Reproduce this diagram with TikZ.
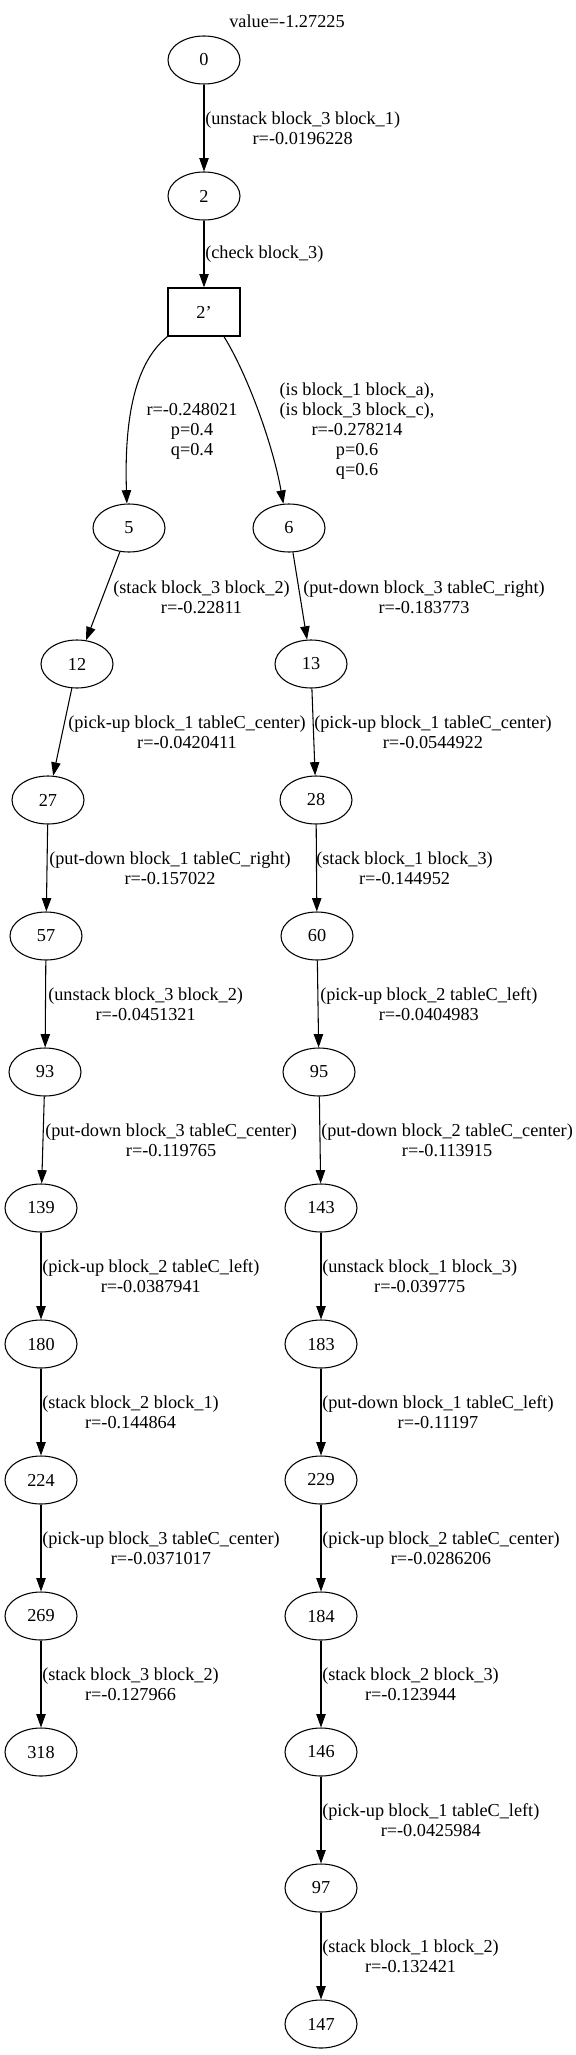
\documentclass[tikz,border=0pt]{standalone}
\usepackage{fontspec}
\setmainfont{Liberation Serif}
\usetikzlibrary{shapes.geometric,arrows.meta,calc}
\begin{document}
\begin{tikzpicture}[x=0.75pt,y=-0.75pt,
  every node/.style={font=\fontsize{13.7pt}{15pt}\selectfont},
  st/.style={ellipse,draw,line width=0.8pt,minimum width=54pt,minimum height=36pt,inner sep=0pt},
  sbox/.style={rectangle,draw,line width=0.9pt,minimum width=54pt,minimum height=36pt,inner sep=0pt},
  lab/.style={align=center,inner sep=0pt,anchor=west},
  clab/.style={align=center,inner sep=0pt},
  edge/.style={draw,line width=0.8pt,-{Triangle[length=10pt,width=7pt]}}]
\useasboundingbox (0,0) rectangle (575,2055);
\node[clab] (title) at (287,21) {value=-1.27225};
% nodes
\node[st] (n0) at (204,60) {0};
\node[st] (n2) at (204,196) {2};
\node[sbox] (b2p) at (204,312) {2'};
\node[st] (n5) at (129,528) {5};
\node[st] (n6) at (289,528) {6};
\node[st] (n12) at (77,664) {12};
\node[st] (n13) at (311,664) {13};
\node[st] (n27) at (48,800) {27};
\node[st] (n28) at (316,800) {28};
\node[st] (n57) at (46,936) {57};
\node[st] (n60) at (317,936) {60};
\node[st] (n93) at (45,1072) {93};
\node[st] (n95) at (319,1072) {95};
\node[st] (n139) at (41,1208) {139};
\node[st] (n143) at (321,1208) {143};
\node[st] (n180) at (41,1344) {180};
\node[st] (n183) at (321,1344) {183};
\node[st] (n224) at (41,1480) {224};
\node[st] (n229) at (321,1480) {229};
\node[st] (n269) at (41,1616) {269};
\node[st] (n184) at (321,1616) {184};
\node[st] (n318) at (41,1752) {318};
\node[st] (n146) at (321,1752) {146};
\node[st] (n97) at (321,1888) {97};
\node[st] (n147) at (321,2024) {147};
% edges
\path[edge] (n0) -- (n2);
\path[edge] (n2) -- (b2p);
\path[edge] (b2p.south west) .. controls (136,362) and (124,415) .. (n5.95);
\path[edge] (b2p.-51.6) .. controls (245,370) and (272,440) .. (n6.103);
\path[edge] (n5) -- (n12);
\path[edge] (n6) -- (n13);
\path[edge] (n12) -- (n27);
\path[edge] (n13) -- (n28);
\path[edge] (n27) -- (n57);
\path[edge] (n28) -- (n60);
\path[edge] (n57) -- (n93);
\path[edge] (n60) -- (n95);
\path[edge] (n93) -- (n139);
\path[edge] (n95) -- (n143);
\path[edge] (n139) -- (n180);
\path[edge] (n143) -- (n183);
\path[edge] (n180) -- (n224);
\path[edge] (n183) -- (n229);
\path[edge] (n224) -- (n269);
\path[edge] (n229) -- (n184);
\path[edge] (n269) -- (n318);
\path[edge] (n184) -- (n146);
\path[edge] (n146) -- (n97);
\path[edge] (n97) -- (n147);
% edge labels
\node[lab] (l0) at (205,128) {(unstack block\_3 block\_1)\\r=-0.0196228};
\node[lab] (l2) at (205,254) {(check block\_3)};
\node[clab] (l5) at (192,431) {r=-0.248021\\p=0.4\\q=0.4};
\node[clab] (l6) at (357,431) {(is block\_1 block\_a),\\(is block\_3 block\_c),\\r=-0.278214\\p=0.6\\q=0.6};
\node[lab] (l12) at (113,597) {(stack block\_3 block\_2)\\r=-0.22811};
\node[lab] (l13) at (303,597) {(put-down block\_3 tableC\_right)\\r=-0.183773};
\node[lab] (l27) at (68,732) {(pick-up block\_1 tableC\_center)\\r=-0.0420411};
\node[lab] (l28) at (314,732) {(pick-up block\_1 tableC\_center)\\r=-0.0544922};
\node[lab] (l57) at (49,868) {(put-down block\_1 tableC\_right)\\r=-0.157022};
\node[lab] (l60) at (316,868) {(stack block\_1 block\_3)\\r=-0.144952};
\node[lab] (l93) at (48,1004) {(unstack block\_3 block\_2)\\r=-0.0451321};
\node[lab] (l95) at (320,1004) {(pick-up block\_2 tableC\_left)\\r=-0.0404983};
\node[lab] (l139) at (45,1140) {(put-down block\_3 tableC\_center)\\r=-0.119765};
\node[lab] (l143) at (321,1140) {(put-down block\_2 tableC\_center)\\r=-0.113915};
\node[lab] (l180) at (42,1276) {(pick-up block\_2 tableC\_left)\\r=-0.0387941};
\node[lab] (l183) at (322,1276) {(unstack block\_1 block\_3)\\r=-0.039775};
\node[lab] (l224) at (42,1412) {(stack block\_2 block\_1)\\r=-0.144864};
\node[lab] (l229) at (322,1412) {(put-down block\_1 tableC\_left)\\r=-0.11197};
\node[lab] (l269) at (42,1548) {(pick-up block\_3 tableC\_center)\\r=-0.0371017};
\node[lab] (l184) at (322,1548) {(pick-up block\_2 tableC\_center)\\r=-0.0286206};
\node[lab] (l318) at (42,1684) {(stack block\_3 block\_2)\\r=-0.127966};
\node[lab] (l146) at (322,1684) {(stack block\_2 block\_3)\\r=-0.123944};
\node[lab] (l97) at (322,1820) {(pick-up block\_1 tableC\_left)\\r=-0.0425984};
\node[lab] (l147) at (322,1956) {(stack block\_1 block\_2)\\r=-0.132421};
\end{tikzpicture}
\end{document}
